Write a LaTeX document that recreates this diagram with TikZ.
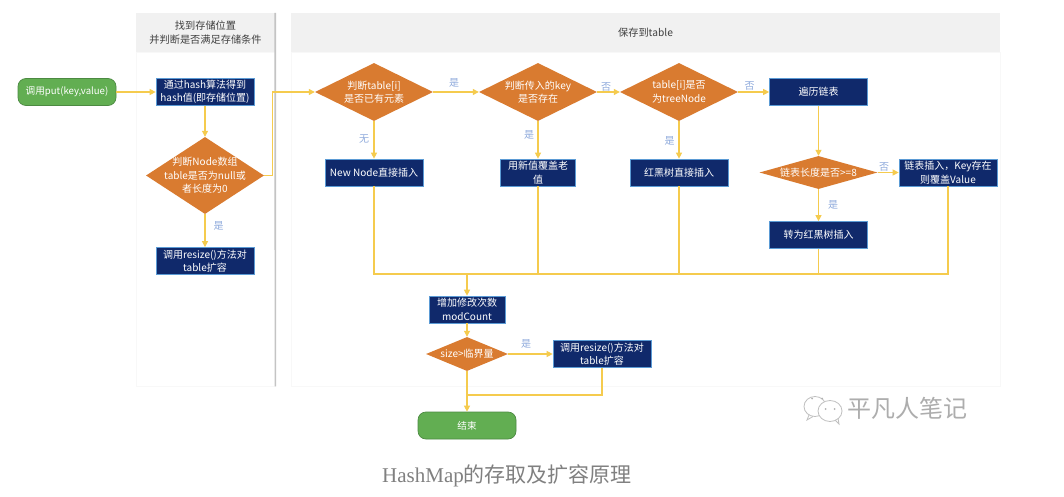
\documentclass[tikz,border=0pt]{standalone}
\usepackage{fontspec}
\setmainfont{Noto Sans CJK SC}
\newfontfamily\capserif{Liberation Serif}
\usetikzlibrary{arrows.meta,shapes.geometric}
\definecolor{navy}{HTML}{10296B}
\definecolor{navyline}{HTML}{5B9BD5}
\definecolor{ochre}{HTML}{D97B30}
\definecolor{leaf}{HTML}{62AE52}
\definecolor{leafline}{HTML}{4C8A42}
\definecolor{wire}{HTML}{F5CB4E}
\definecolor{yesno}{HTML}{8FAADC}
\definecolor{lanehead}{HTML}{F1F1F1}
\definecolor{laneline}{HTML}{F8F8F8}
\definecolor{laneshadow}{HTML}{C4C4C4}
\begin{document}
\begin{tikzpicture}[x=1pt, y=-1pt, node distance=80pt, >={Triangle[length=6pt,width=6pt]}]
        \tikzstyle{proc}=[draw=navyline, fill=navy, text=white, line width=0.7pt, minimum width=98pt, minimum height=27pt, inner sep=0pt, font=\fontsize{10}{13.5}\selectfont, align=center];
        \tikzstyle{choice}=[diamond, fill=ochre, inner sep=0pt, minimum width=118pt, minimum height=58pt];
        \tikzstyle{choicetxt}=[text=white, inner sep=0pt, font=\fontsize{10}{13.5}\selectfont, align=center];
        \tikzstyle{term}=[draw=leafline, fill=leaf, text=white, rounded corners=8pt, line width=0.7pt, minimum width=98pt, minimum height=27pt, inner sep=0pt, font=\fontsize{9.6}{13.5}\selectfont];
        \tikzstyle{head}=[fill=lanehead, text=black!75, minimum height=39pt, inner sep=0pt, font=\fontsize{10.2}{13.5}\selectfont, align=center];
        \tikzstyle{lanebody}=[draw=laneline, line width=0.7pt, minimum height=334pt, inner sep=0pt];
        \tikzstyle{tag}=[text=yesno, inner sep=0pt, font=\fontsize{10}{12}\selectfont];
        \tikzstyle{wireline}=[draw=wire, line width=1.1pt];

        \useasboundingbox (0,0) rectangle (1064,497);
        \fill[white] (0,0) rectangle (1064,497);

        \node[lanebody, minimum width=139pt] (lanea) at (205.5,219) {};
        \node[lanebody, minimum width=709pt] (laneb) at (645.5,219) {};
        \node[head, minimum width=139pt] (heada) at (205.5,32.5) {找到存储位置\\并判断是否满足存储条件};
        \node[head, minimum width=709pt] (headb) at (645.5,32.5) {保存到table};
        \draw[laneshadow, line width=1.6pt, xshift=0.6pt] (heada.north east) -- (lanea.south east);

        \node[term] (start) at (67,92) {调用put(key,value)};
        \node[proc, right of=start, node distance=138pt] (hash) {通过hash算法得到\\hash值(即存储位置)};
        \node[choice, below of=hash, node distance=83.5pt, minimum height=77pt, label={[choicetxt]center:判断Node数组\\table是否为null或\\者长度为0}] (isnull) {};
        \node[proc, below of=isnull, node distance=85.5pt] (resizea) {调用resize()方法对\\table扩容};

        \node[choice, right of=hash, node distance=169pt, label={[choicetxt]center:判断table[i]\\是否已有元素}] (hasitem) {};
        \node[proc, below of=hasitem, node distance=80.5pt] (newnode) {New Node直接插入};
        \node[choice, right of=hasitem, node distance=164pt, label={[choicetxt]center:判断传入的key\\是否存在}] (haskey) {};
        \node[proc, below of=haskey, node distance=80.5pt, minimum width=75pt] (overwrite) {用新值覆盖老\\值};
        \node[choice, right of=haskey, node distance=141pt, label={[choicetxt]center:table[i]是否\\为treeNode}] (istree) {};
        \node[proc, below of=istree, node distance=80.5pt] (rbinsert) {红黑树直接插入};
        \node[proc, right of=istree, node distance=139.5pt] (walk) {遍历链表};
        \node[choice, below of=walk, node distance=80.5pt, minimum height=33pt, label={[choicetxt]center:链表长度是否>=8}] (islong) {};
        \node[proc, right of=islong, node distance=129.5pt] (listins) {链表插入，Key存在\\则覆盖Value};
        \node[proc, below of=islong, node distance=62.5pt] (treeify) {转为红黑树插入};

        \coordinate (bus) at (467,274);
        \node[proc, below of=bus, node distance=35.5pt, minimum width=76pt] (modcount) {增加修改次数\\modCount};
        \node[choice, below of=modcount, node distance=44.5pt, minimum width=82pt, minimum height=34pt, label={[choicetxt]center:size>临界量}] (oversize) {};
        \node[proc, right of=oversize, node distance=135pt] (resizeb) {调用resize()方法对\\table扩容};
        \node[term, below of=oversize, node distance=71.5pt] (finish) {结束};
        \coordinate (merge) at (467,395);

        \draw[wireline, ->] (start) -- (hash);
        \draw[wireline, ->] (hash) -- (isnull);
        \draw[wireline, ->] (isnull) -- (resizea);
        \draw[wireline, ->] (isnull.east) -- ++(8.5,0) |- (hasitem.west);
        \draw[wireline, ->] (hasitem) -- (newnode);
        \draw[wireline, ->] (hasitem) -- (haskey);
        \draw[wireline, ->] (haskey) -- (istree);
        \draw[wireline, ->] (haskey) -- (overwrite);
        \draw[wireline, ->] (istree) -- (rbinsert);
        \draw[wireline, ->] (istree) -- (walk);
        \draw[wireline, ->] (walk) -- (islong);
        \draw[wireline, ->] (islong) -- (listins);
        \draw[wireline, ->] (islong) -- (treeify);

        \draw[wireline] (newnode) |- (bus);
        \draw[wireline] (listins) |- (bus);
        \draw[wireline] (overwrite) -- (overwrite |- bus);
        \draw[wireline] (rbinsert) -- (rbinsert |- bus);
        \draw[wireline] (treeify) -- (treeify |- bus);

        \draw[wireline, ->] (bus) -- (modcount);
        \draw[wireline, ->] (modcount) -- (oversize);
        \draw[wireline, ->] (oversize) -- (resizeb);
        \draw[wireline, ->] (oversize) -- (finish);
        \draw[wireline] (resizeb) |- (merge);

        \node[tag] (tagresize) at (218.5,226) {是};
        \node[tag] (tagnone) at (364,139) {无};
        \node[tag] (tagitem) at (454,83) {是};
        \node[tag] (tagkey) at (606,87) {否};
        \node[tag] (tagover) at (529,134.5) {是};
        \node[tag] (tagtree) at (669.5,141) {是};
        \node[tag] (tagwalk) at (749.5,85.5) {否};
        \node[tag] (taglist) at (884,166.5) {否};
        \node[tag] (tagtreeify) at (833,205) {是};
        \node[tag] (tagsize) at (526,343.5) {是};

        \draw[black!25, line width=0.8pt, fill=white] (815,406.5) ellipse (11pt and 10pt);
        \draw[black!25, line width=0.8pt] (809,415) -- (807,420) -- (813,416.5);
        \draw[black!25, line width=0.8pt, fill=white] (830,411) ellipse (12pt and 10.5pt);
        \draw[black!25, line width=0.8pt] (835,420) -- (839,424) -- (838,418);
        \fill[black!30] (812,398.5) circle (1pt) (822,398.5) circle (1pt) (825.5,409) circle (1pt) (834.5,409) circle (1pt);
        \node[text=black!32, inner sep=0pt, font=\fontsize{24}{26}\selectfont] (mark) at (907,408.5) {平凡人笔记};
        \node[text=black!50, inner sep=0pt, font=\fontsize{21}{24}\selectfont] (caption) at (507,476) {{\capserif HashMap}的存取及扩容原理};
    \end{tikzpicture}
\end{document}
